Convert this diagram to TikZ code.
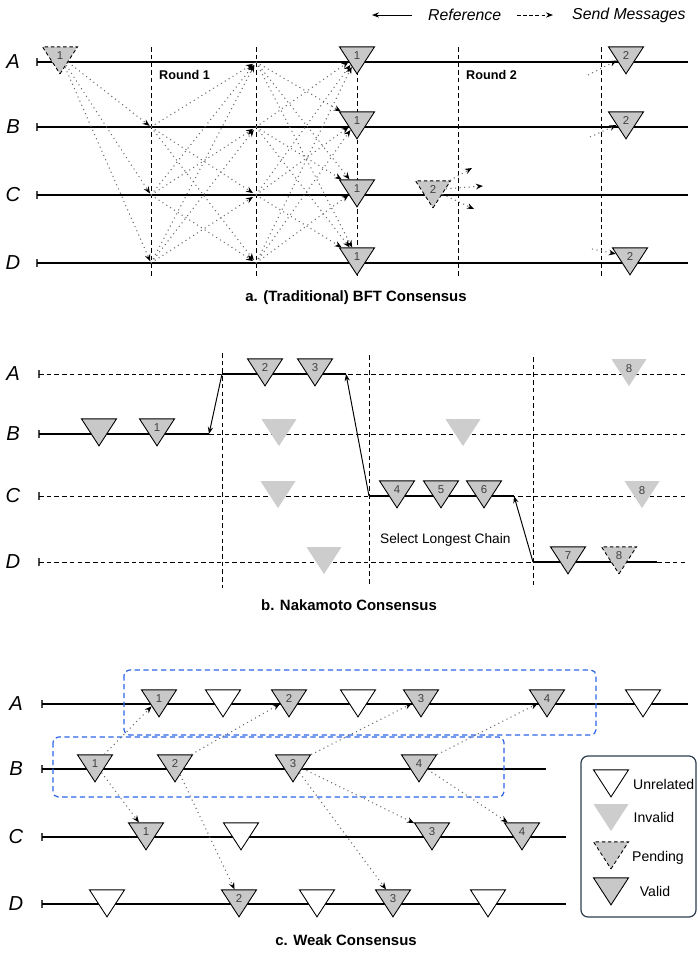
\documentclass[tikz,border=0pt]{standalone}
\usepackage{fontspec}
\setmainfont{Liberation Sans}
\usepackage{xcolor}
\usetikzlibrary{shapes.geometric,arrows.meta}
\definecolor{blockgray}{RGB}{200,200,200}
\definecolor{badgray}{RGB}{205,205,205}
\definecolor{msggray}{RGB}{105,105,105}
\definecolor{groupblue}{RGB}{45,100,230}
\definecolor{legendnavy}{RGB}{44,62,80}

\begin{document}
\begin{tikzpicture}[x=0.02cm, y=-0.02cm,
    lineseg/.style={line width=0.6pt},
    tickmark/.style={line width=0.6pt, black!70},
    phase/.style={dash pattern=on 2.6pt off 1.8pt, line width=0.55pt},
    lane/.style={dash pattern=on 2.6pt off 1.8pt, line width=0.55pt},
    blk/.style={isosceles triangle, isosceles triangle stretches,
                shape border rotate=270, minimum width=0.7cm, minimum height=0.54cm,
                inner sep=0pt, anchor=apex, font=\fontsize{6.5}{7}\selectfont, text=black!75},
    valid/.style={blk, draw=black, fill=blockgray, line width=0.5pt},
    invalid/.style={blk, fill=badgray},
    pending/.style={blk, draw=black, fill=blockgray, line width=0.5pt, dash pattern=on 2pt off 1.5pt},
    unrel/.style={blk, draw=black, fill=white, line width=0.5pt},
    msg/.style={dotted, msggray, line width=0.6pt, -{Stealth[black,length=4pt,width=3.2pt]}},
    ref/.style={line width=0.55pt, -{Stealth[length=4pt,width=3pt]}},
    lanelabel/.style={font=\fontsize{11.5}{12}\selectfont\itshape},
    caption/.style={font=\fontsize{8.5}{10}\selectfont\bfseries},
    note/.style={font=\fontsize{7.2}{8}\selectfont\bfseries, anchor=west},
    legtext/.style={font=\fontsize{8}{9}\selectfont},
    grp/.style={groupblue, dash pattern=on 3pt off 2pt, line width=0.7pt, rounded corners=3pt}
]
\useasboundingbox (0,0) rectangle (697,954);

% Key
\coordinate (refTail) at (412,15);
\coordinate (refHead) at (372,15);
\draw[ref] (refTail) -- (refHead);
\node[font=\fontsize{9}{10}\selectfont\itshape, anchor=west] (refKey) at (422,15) {Reference};
\coordinate (msgTail) at (517,15);
\coordinate (msgHead) at (553,15);
\draw[line width=0.55pt, dash pattern=on 2pt off 1.5pt, -{Stealth[length=4pt,width=3pt]}] (msgTail) -- (msgHead);
\node[font=\fontsize{9}{10}\selectfont\itshape, anchor=west] (msgKey) at (566,15) {Send Messages};

% a. BFT
\foreach \r/\y in {A/62,B/127,C/195,D/263} {
  \node[lanelabel] (bftLab\r) at (13,\y) {\r};
  \draw[tickmark] (37,\y-4) -- (37,\y+4);
  \draw[lineseg] (37,\y) -- (688,\y);
  \coordinate (r1\r) at (151,\y);
  \coordinate (r2\r) at (256,\y);
}
\foreach \x in {151,256,357,458,601}
  \draw[phase] (\x,47) -- (\x,276);
\node[note] (round1) at (153,75) {Round 1};
\node[note] (round2) at (460,75) {Round 2};

\node[pending] (bftA0) at (60,75) {1};
\foreach \r/\y in {A/62,B/127,C/195,D/263}
  \node[valid] (bft\r1) at (357,\y+13) {1};
\node[valid] (bftA2) at (626,75) {2};
\node[valid] (bftB2) at (626,140) {2};
\node[pending] (bftC2) at (433,209) {2};
\node[valid] (bftD2) at (630,276) {2};

\foreach \t in {B,C,D}
  \draw[msg, shorten >=1pt] (bftA0) -- (r1\t);
\foreach \s/\t in {B/A,B/C,B/D,C/A,C/B,C/D,D/A,D/B,D/C}
  \draw[msg, shorten >=2pt] (r1\s) -- (r2\t);
\foreach \s/\t in {A/B,A/C,A/D,B/A,B/C,B/D,C/A,C/B,C/D,D/A,D/B,D/C}
  \draw[msg] (r2\s) -- (bft\t1);

\coordinate (preA) at (588,75);
\coordinate (preB) at (590,137);
\coordinate (preD) at (592,249);
\draw[msg] (preA) -- (bftA2);
\draw[msg] (preB) -- (bftB2);
\draw[msg] (preD) -- (bftD2);
\coordinate (outC1) at (472,168);
\coordinate (outC2) at (483,186);
\coordinate (outC3) at (474,209);
\foreach \o in {1,2,3}
  \draw[msg] (bftC2) -- (outC\o);

\node[caption] (capA) at (356,298) {a. (Traditional) BFT Consensus};

% b. Nakamoto
\foreach \r/\y in {A/374,B/434,C/496,D/562} {
  \node[lanelabel] (nakLab\r) at (13,\y) {\r};
  \draw[tickmark] (39,\y-4) -- (39,\y+4);
  \draw[lane] (39,\y) -- (688,\y);
}
\foreach \x/\ys/\ye in {222/353/588,369/355/584,533/357/585}
  \draw[phase] (\x,\ys) -- (\x,\ye);

\coordinate (nakBs) at (39,434);
\coordinate (nakBe) at (209,434);
\coordinate (nakAs) at (222,374);
\coordinate (nakAe) at (346,374);
\coordinate (nakCs) at (369,496);
\coordinate (nakCe) at (514,496);
\coordinate (nakDs) at (533,562);
\coordinate (nakDe) at (657,562);
\draw[lineseg] (nakBs) -- (nakBe);
\draw[lineseg] (nakAs) -- (nakAe);
\draw[lineseg] (nakCs) -- (nakCe);
\draw[lineseg] (nakDs) -- (nakDe);

\node[valid] (nakB0) at (99,447) {};
\node[valid] (nakB1) at (157,447) {1};
\node[valid] (nakA2) at (265,387) {2};
\node[valid] (nakA3) at (315,387) {3};
\node[invalid] (nakBx) at (279,447) {};
\node[invalid] (nakCx) at (278,509) {};
\node[invalid] (nakDx) at (324,575) {};
\node[invalid] (nakBy) at (463,447) {};
\node[valid] (nakC4) at (397,509) {4};
\node[valid] (nakC5) at (441,509) {5};
\node[valid] (nakC6) at (484,509) {6};
\node[invalid] (nakA8) at (629,387) {8};
\node[invalid] (nakC8) at (642,509) {8};
\node[valid] (nakD7) at (568,575) {7};
\node[pending] (nakD8) at (619,575) {8};

\draw[ref] (nakAs) -- (nakBe);
\draw[ref] (nakCs) -- (nakAe);
\draw[ref] (nakDs) -- (nakCe);

\node[font=\fontsize{7.8}{9}\selectfont, anchor=west] (longest) at (374,540) {Select Longest Chain};
\node[caption] (capB) at (349,605) {b. Nakamoto Consensus};

% c. Weak
\foreach \r/\y/\e in {A/704/688,B/769/546,C/837/566,D/904/566} {
  \node[lanelabel] (weakLab\r) at (16,\y) {\r};
  \draw[tickmark] (42,\y-4) -- (42,\y+4);
  \draw[lineseg] (42,\y) -- (\e,\y);
}
\draw[grp] (124,670) rectangle (596,735);
\draw[grp] (53,737) rectangle (504,797);

\node[valid] (weakA1) at (159,718) {1};
\node[unrel] (weakAu1) at (223,718) {};
\node[valid] (weakA2) at (289,718) {2};
\node[unrel] (weakAu2) at (358,718) {};
\node[valid] (weakA3) at (421,718) {3};
\node[valid] (weakA4) at (547,718) {4};
\node[unrel] (weakAu3) at (643,718) {};

\node[valid] (weakB1) at (95,783) {1};
\node[valid] (weakB2) at (175,783) {2};
\node[valid] (weakB3) at (293,783) {3};
\node[valid] (weakB4) at (419,783) {4};

\node[valid] (weakC1) at (146,851) {1};
\node[unrel] (weakCu1) at (241,851) {};
\node[valid] (weakC3) at (432,851) {3};
\node[valid] (weakC4) at (522,851) {4};

\node[unrel] (weakDu1) at (107,918) {};
\node[valid] (weakD2) at (239,918) {2};
\node[unrel] (weakDu2) at (317,918) {};
\node[valid] (weakD3) at (393,918) {3};
\node[unrel] (weakDu3) at (488,918) {};

\foreach \s/\t in {B1/A1,B2/A2,B3/A3,B4/A4,B1/C1,B2/D2,B3/C3,B3/D3,B4/C4}
  \draw[msg] (weak\s) -- (weak\t);

% Legend
\draw[legendnavy, line width=0.7pt, rounded corners=4pt] (581,756) rectangle (696,917);
\node[unrel] (legUnrel) at (611,798) {};
\node[invalid] (legInvalid) at (611,832) {};
\node[pending] (legPending) at (611,870) {};
\node[valid] (legValid) at (611,906) {};
\node[legtext, anchor=west] (legUnrelTxt) at (627,784) {Unrelated};
\node[legtext] (legInvalidTxt) at (654,817) {Invalid};
\node[legtext] (legPendingTxt) at (658,858) {Pending};
\node[legtext] (legValidTxt) at (655,891) {Valid};

\node[caption] (capC) at (346,940) {c. Weak Consensus};

\end{tikzpicture}
\end{document}
